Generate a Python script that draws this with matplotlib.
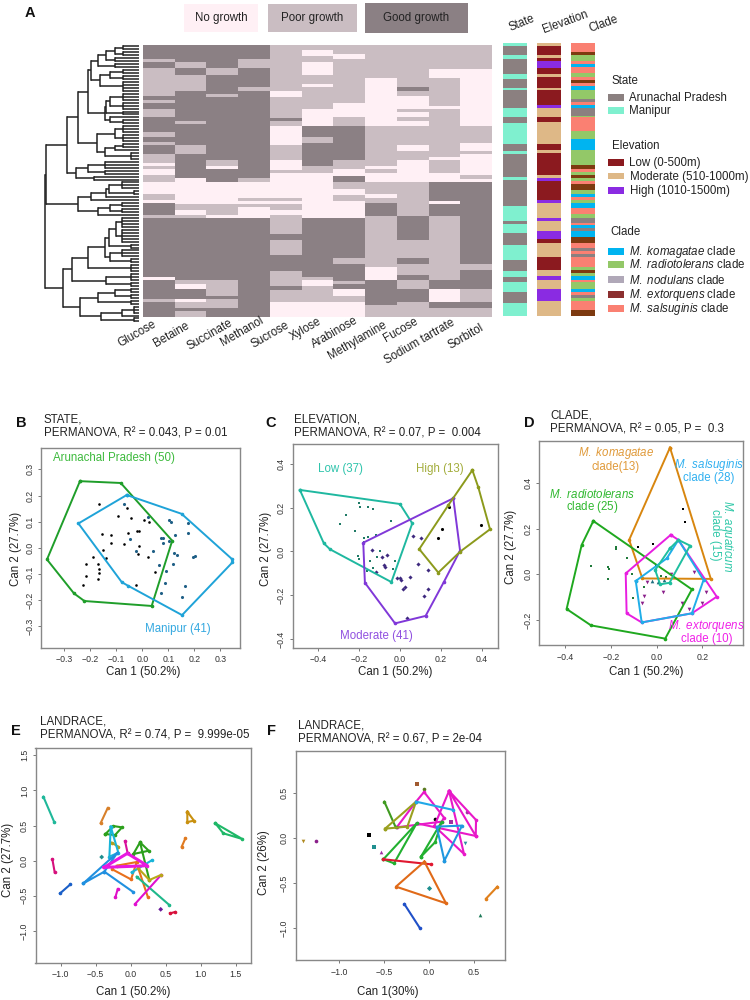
import numpy as np
import matplotlib
matplotlib.use("Agg")
import matplotlib.pyplot as plt
from matplotlib.colors import ListedColormap
from matplotlib.patches import Rectangle

plt.rcParams['font.family'] = ['Liberation Sans', 'DejaVu Sans']
plt.rcParams['mathtext.fontset'] = 'custom'
plt.rcParams['mathtext.rm'] = 'Liberation Sans'
plt.rcParams['mathtext.it'] = 'Liberation Sans:italic'
plt.rcParams['mathtext.bf'] = 'Liberation Sans:bold'

# ---------------- heatmap data: (level, end row); 0 none, 1 poor, 2 good ----------------
SUBSTRATES = ["Glucose", "Betaine", "Succinate", "Methanol", "Sucrose", "Xylose", "Arabinose",
              "Methylamine", "Fucose", "Sodium tartrate", "Sorbitol"]
N_ROWS = 92
glucose = [(2,5),(1,6),(2,8),(1,17.5),(2,19),(1,20),(2,22),(1,24.5),(2,29.5),(1,31.5),(2,33),(1,34),(2,37),(1,40),(0,41),(1,42),(0,44),(1,46.5),(0,50.5),(1,52.5),(0,53.5),(2,57.5),(1,58.5),(2,78.5),(0,79.5),(2,86),(1,87),(2,92)]
betaine = [(2,6),(1,8),(2,10.5),(1,16),(2,26),(1,27),(2,34),(1,37),(2,45),(0,54),(1,56),(0,57.5),(1,58.5),(2,79.5),(1,81),(0,82.5),(2,86),(0,87),(1,89),(2,90),(1,92)]
succinate = [(2,8),(1,10.5),(2,17),(1,18),(2,39),(1,41),(0,42),(2,46.5),(0,54),(1,57.5),(0,58.5),(2,79.5),(1,85),(2,86),(1,89),(2,92)]
methanol = [(2,5),(1,8),(2,14.5),(1,16),(2,45),(1,46.5),(0,52),(1,53),(0,54),(1,55),(0,58.5),(2,92)]
sucrose = [(1,16),(0,18),(1,25),(2,26),(1,27.5),(0,34),(1,39),(0,42.5),(1,43.5),(0,52),(1,53),(0,54),(1,56),(0,57.5),(1,64),(2,66),(1,71),(2,76.5),(1,81.5),(2,83),(1,87),(0,92)]
xylose = [(1,2),(0,4),(1,6),(0,10.5),(1,13.5),(0,14.5),(1,22),(0,27.5),(2,31.5),(1,33.5),(2,41),(1,43.5),(0,58.5),(2,78.5),(1,79.5),(0,81.5),(1,87),(0,92)]
arabinose = [(1,3.5),(0,5),(1,20),(0,24.5),(1,27.5),(2,39),(1,42),(0,44.5),(2,46.5),(1,49),(0,51),(1,53),(0,58.5),(2,72),(1,74),(2,80),(1,81),(2,82.5),(0,85),(1,87),(0,92)]
methylamine = [(1,11.5),(0,27.5),(1,41),(0,42),(1,43.5),(0,46.5),(1,50.5),(0,52),(1,53.5),(2,58),(1,75),(0,79.5),(2,88),(1,92)]
fucose = [(1,14.5),(2,16),(1,17.5),(0,22),(1,23),(0,24.5),(1,26),(0,27.5),(1,34),(0,36),(1,39),(0,46.5),(1,58),(2,66),(1,72),(2,74),(1,78),(2,79.5),(1,82.5),(2,87),(1,92)]
sodium_tartrate = [(1,8.5),(0,11.5),(1,21),(0,22),(1,38),(0,39),(1,43.5),(0,46.5),(2,53),(0,54),(2,58),(1,79.5),(2,82.5),(0,87),(2,89),(1,92)]
sorbitol = [(1,8.5),(0,27.5),(1,33.5),(0,36),(1,37),(0,44),(1,45.5),(0,46.5),(2,74),(1,76),(2,82.5),(1,87),(2,89),(1,92)]
COLUMNS = [glucose, betaine, succinate, methanol, sucrose, xylose, arabinose, methylamine, fucose, sodium_tartrate, sorbitol]

# annotation strips
A, M = 'A', 'M'
state_runs = [(M,1),(A,4),(M,5.5),(A,10.5),(M,12),(A,15),(M,16),(A,22),(M,25),(A,27),(M,34),(A,36.5),(M,37.5),(A,45),(M,46),(A,55),(M,60),(A,61),(M,64),(A,68),(M,73),(A,77),(M,79),(A,80.5),(M,84),(A,87.5),(M,92)]
L_, O_, H_ = 'L', 'O', 'H'
elev_runs = [(O_,1),(L_,4),(O_,5),(L_,6),(H_,8.5),(L_,10.5),(O_,11.5),(L_,15),(O_,16),(L_,21),(H_,22),(O_,25),(L_,26.5),(O_,34),(L_,36),(O_,37),(L_,44.5),(O_,45.5),(H_,46.5),(L_,53),(H_,54),(O_,59),(H_,60),(O_,63.5),(H_,66),(L_,67.5),(O_,72),(L_,76.5),(O_,78.5),(H_,80),(O_,83),(H_,87),(O_,92)]
K, R, N, E, S = 'K', 'R', 'N', 'E', 'S'
clade_runs = [(S,3),(E,4),(R,5),(R,6),(S,7),(K,8),(S,10),(R,11.5),(S,12.5),(E,13.5),(S,14.5),(K,16),(R,19),(N,20),(S,21),(K,22),(N,24.5),(R,25),(S,29.5),(R,32.5),(K,36),(R,41),(E,42.5),(S,43.5),(R,44.5),(E,45.5),(R,46.5),(S,47.5),(E,49.5),(R,51),(K,52),(S,53),(R,54),(K,55.5),(S,57.5),(R,59),(N,60.5),(S,61.5),(K,62.5),(N,63.5),(K,65.5),(E,67.5),(S,69),(N,70),(S,71),(N,72),(S,75.5),(R,76.5),(E,77.5),(R,78.5),(K,80),(S,80.5),(R,83),(K,84),(S,85),(N,86),(R,87),(S,90),(E,92)]

# ---------------- dendrogram: (merge distance, children); None is a leaf ----------------
def L(n, d):
    return (d, [None] * n)
def B(d, *c):
    return (d, list(c))
c1 = B(41, B(33, B(24, L(2,16), L(2,16)), L(2,24)), L(2,24))
c2 = B(39, B(29, L(2,16), L(2,16)), L(4,16))
c3 = B(33, B(29, L(3,16), L(3,16)), L(2,16))
c4 = B(29, None, L(2,16))
t1 = B(51, B(48, c1, c2), B(34, c3, c4))
t2 = B(42, B(24, L(3,16), L(3,16)), B(34, B(24, L(2,16), None), L(3,8)))
t3 = B(63, B(51, L(3,34), L(2,34)), L(2,45))
t4 = B(61, B(48, B(33, B(30, L(3,17), L(2,5)), None), None), B(41, B(29, L(2,17), L(2,17)), None))
t5 = B(51, B(34, B(30, B(23, L(4,17), L(5,17)), L(2,8)), B(29, L(3,17), L(2,8))), L(3,8))
t5b = B(33, L(3,8), L(2,8))
t6 = B(59, B(41, B(24, L(2,8), L(2,8)), L(2,8)), B(38, B(17, L(3,5), None), L(2,5)))
TREE = B(94.5, B(93, B(72, B(61, t1, t2), t3), t4), B(76, B(67, t5, t5b), t6))

# ---------------- panel B ----------------
b_arun_hull_x = [-0.24,-0.083,0.115,0.036,-0.223,-0.263,-0.367]
b_arun_hull_y = [0.255,0.248,0.027,-0.223,-0.204,-0.175,-0.045]
b_man_hull_x = [-0.06,0.151,0.347,0.347,0.153,-0.054,-0.079,-0.246]
b_man_hull_y = [0.202,0.13,-0.045,-0.056,-0.258,-0.146,-0.132,0.093]
b_arun_x = [-0.165,-0.092,-0.058,-0.045,0.008,0.024,-0.154,-0.122,-0.121,-0.056,-0.022,-0.013,-0.072,-0.013,-0.015,0.021,-0.151,-0.191,-0.14,-0.218,-0.172,-0.165,-0.165,-0.218,-0.169,-0.227,-0.023,0.05]
b_arun_y = [0.166,0.123,0.151,0.112,0.106,0.1,0.051,0.047,0.02,0.056,0.063,0.066,0.015,0.006,-0.023,-0.034,-0.01,-0.034,-0.041,-0.064,-0.061,-0.08,-0.095,-0.107,-0.12,-0.143,-0.142,-0.093]
b_man_x = [-0.069,-0.047,-0.024,0.041,0.063,0.092,0.088,0.073,0.154,0.163,0.118,0.123,0.132,0.195,0.204,0.176,0.176,0.103,0.11,0.126,0.071,0.081,0.081,0.103,0.021]
b_man_y = [0.166,0.032,-0.011,-0.014,-0.065,-0.091,-0.134,-0.175,-0.189,-0.146,-0.063,-0.019,-0.026,-0.037,-0.032,0.055,0.093,0.106,0.098,0.05,0.038,0.036,0.019,0.026,0.116]

# ---------------- panel C ----------------
c_low_hull_x = [-0.488,0,0.06,-0.042,-0.341,-0.371]
c_low_hull_y = [0.28,0.216,0.128,-0.139,0.01,0.037]
c_mod_hull_x = [0.26,0.293,0.215,0.125,-0.024,-0.171,-0.179]
c_mod_hull_y = [0.242,0.004,-0.137,-0.293,-0.327,-0.142,0.04]
c_high_hull_x = [0.353,0.382,0.439,0.293,0.187,0.094,0.236]
c_high_hull_y = [0.37,0.292,0.101,-0.001,-0.096,0.011,0.211]
c_low_x = [-0.202,-0.195,-0.158,-0.13,-0.262,-0.293,-0.218,-0.044,-0.154,-0.119,-0.177,-0.176,-0.205,-0.198,-0.145,-0.112,-0.096,-0.024,-0.13,-0.033,-0.163]
c_low_y = [0.219,0.204,0.201,0.195,0.164,0.125,0.095,0.14,0.067,0.075,0.06,0.045,-0.02,-0.036,-0.045,-0.023,0.002,-0.042,-0.077,-0.078,-0.087]
c_mod_x = [-0.137,-0.086,-0.065,-0.078,-0.073,-0.115,-0.016,0,0.007,0.049,0.026,0.016,0.117,0.135,0.135,0.089,0.065,0.101,0.033]
c_mod_y = [0.007,-0.027,-0.014,-0.061,-0.069,-0.095,-0.119,-0.122,-0.13,-0.114,-0.16,-0.172,-0.202,-0.17,-0.084,-0.057,0.07,0.06,-0.301]
c_high_x = [0.237,0.203,0.185,0.393]
c_high_y = [0.204,0.101,0.063,0.119]

# ---------------- panel D ----------------
d_kom_hull_x = [0.058,0.237,-0.063,-0.121]
d_kom_hull_y = [0.556,-0.02,-0.018,0.151]
d_rad_hull_x = [-0.278,0.154,0.037,-0.288,-0.395,-0.329]
d_rad_hull_y = [0.234,-0.066,-0.282,-0.224,-0.152,0.129]
d_ext_hull_x = [0.061,0.095,0.263,0.154,-0.066,-0.132,-0.136]
d_ext_hull_y = [0.173,0.151,-0.098,-0.171,-0.211,-0.171,0.004]
d_sal_hull_x = [-0.092,0.044,0.095,0.205,0.154,-0.066]
d_sal_hull_y = [-0.029,0.07,0.151,-0.025,-0.171,-0.211]
d_aqu_hull_x = [0.058,0.095,0.146,0.056,0.015,-0.007]
d_aqu_hull_y = [0.114,0.151,0.126,-0.037,-0.044,0.019]
d_rad_x = [-0.289,-0.215,-0.208,-0.212,-0.18,-0.18,-0.129,-0.108,-0.104,-0.056,0.019,0.039]
d_rad_y = [0.038,0.031,0.023,-0.019,0.121,0.111,0.073,0.001,-0.102,-0.054,-0.007,-0.01]
d_kom_x = [0.058,0.113,0.124,-0.082,-0.015,-0.004,-0.004]
d_kom_y = [0.556,0.287,0.228,0.121,0.133,0.041,0.019]
d_ext_x = [-0.044,-0.056,-0.066,0.029,0.063,0.11,0.142,0.216,0.199,0.164]
d_ext_y = [-0.032,-0.095,-0.127,-0.076,0,-0.124,-0.154,-0.077,-0.127,0.012]
d_aqu_x = [-0.02,0.007,0.03]
d_aqu_y = [-0.03,-0.032,-0.025]

# ---------------- panel E: (colour, line width, x values, y values) ----------------
e_groups = [
    ('#1fb89a', 1.5, [-1.246,-1.089], [0.91,0.545]),
    ('#d8802a', 1.5, [-0.328,-0.428], [0.749,0.536]),
    ('#c8900f', 1.5, [0.808,0.903,0.808,0.808], [0.697,0.569,0.55,0.697]),
    ('#e07a20', 1.5, [0.78,0.728], [0.318,0.199]),
    ('#1fb868', 1.5, [1.208,1.593,1.322,1.208], [0.531,0.308,0.389,0.531]),
    ('#1a5fc8', 1.5, [-1.008,-0.861], [-0.465,-0.337]),
    ('#d6107c', 1.5, [-1.117,-1.084], [0.019,-0.166]),
    ('#e010c8', 1.5, [-0.185,-0.219], [-0.403,-0.522]),
    ('#d8103c', 1.5, [0.561,0.632], [-0.749,-0.73]),
    ('#2ca01c', 1.5, [-0.361,-0.247,-0.124,-0.223,-0.361], [0.379,0.493,0.474,0.365,0.379]),
    ('#b0a020', 1.5, [-0.271,-0.176], [0.256,0.199]),
    ('#18b4d8', 1.5, [-0.285,-0.176,-0.304,-0.285], [0.484,0.114,0.057,0.484]),
    ('#d8109c', 1.5, [-0.081,-0.043], [0.28,0.104]),
    ('#2090e0', 1.5, [-0.675,-0.19,-0.376,-0.675], [-0.322,0.114,-0.156,-0.322]),
    ('#2090e0', 1.5, [-0.376,0.029], [-0.156,-0.441]),
    ('#2ca01c', 1.5, [0.133,0.038,0.257,0.133,0.266], [0.261,0.095,0.142,0.261,-0.275]),
    ('#e8701c', 1.5, [-0.2,0.086,0.005,-0.262], [-0.071,-0.019,-0.266,-0.123]),
    ('#e8701c', 1.5, [0.109,0.243], [-0.109,-0.512]),
    ('#1fb88a', 1.5, [0.086,0.552], [-0.228,-0.631]),
    ('#e010d0', 1.5, [0.062,0.433], [-0.616,-0.204]),
    ('#18b4d8', 1.5, [0.014,0.3], [-0.166,0.005]),
    ('#b8a818', 1.5, [0.109,0.266,0.428], [-0.109,-0.275,-0.204]),
    ('#e818e0', 2.2, [-0.38,-0.048,0.238,-0.38], [-0.095,0.104,-0.071,-0.095]),
]
e_single_x = [0.428,-0.414]
e_single_y = [-0.692,0.052]
e_single_c = ['#6a1b9a','#1f8f8f']

# ---------------- panel F ----------------
f_groups = [
    ('#e818c8', [-0.357,-0.141,-0.052,0.171,0.145,-0.357], [0.122,0.407,0.515,0.23,0.185,0.122]),
    ('#e818c8', [-0.134,0.525], [0.167,0.026]),
    ('#e818c8', [0.227,0.528,0.525,0.227], [0.526,0.204,0.026,0.526]),
    ('#e818c8', [0.227,0.063,0.394,0.227], [0.526,0.137,-0.174,0.526]),
    ('#3f9a20', [-0.495,-0.368], [0.407,0.122]),
    ('#9aa020', [-0.487,-0.141,-0.238,-0.487], [0.107,0.407,0.13,0.107]),
    ('#22b030', [-0.506,-0.134,-0.387,-0.506], [-0.233,0.167,-0.278,-0.233]),
    ('#22b030', [-0.086,0.145,0.071,-0.086], [-0.204,0.185,-0.044,-0.204]),
    ('#e01830', [-0.506,0.026], [-0.233,-0.289]),
    ('#2098e0', [0.175,0.372,0.089,0.175], [-0.248,0.141,0.13,-0.248]),
    ('#20a8e8', [-0.141,0.275], [0.407,0.315]),
    ('#e06a18', [-0.048,0.193,-0.365,-0.048], [-0.259,-0.722,-0.537,-0.259]),
    ('#e0801c', [0.64,0.766], [-0.67,-0.537]),
    ('#2050c8', [-0.272,-0.097], [-0.73,-1.0]),
]
f_single_x = [-1.406,-1.261,-0.67,-0.606,-0.532,-0.13,-0.052,0,0.573,0.074,0.249,0.406,0.432]
f_single_y = [-0.033,-0.033,0.037,-0.096,-0.156,0.604,0.544,-0.548,-0.848,0.211,0.178,-0.048,0.296]
f_single_c = ['#b08a20','#8a1f8a','black','#1f8f8f','#a030a0','#a05a30','#5a7a20','#1f8f8f','#1f7a5a','black','#a030a0','#2f8fa0','#a030a0']
f_single_m = ['v','o','s','s','^','s','o','D','^','o','s','v','o']

# ---------------- colours ----------------
HEAT = ['#fff0f5', '#cabdc2', '#8b8084']
STATE_C = {A: '#8b8080', M: '#7ff0cf'}
ELEV_C = {L_: '#8b1a1f', O_: '#deb887', H_: '#8a2be2'}
CLADE_C = {K: '#00b4f0', R: '#93c868', N: '#8b8080', E: '#7d3a10', S: '#fa8072'}

W, H = 750, 1000
fig = plt.figure(figsize=(W/100, H/100), dpi=100, facecolor='white')

def axpx(l, t, r, b):
    return fig.add_axes([l/W, 1-b/H, (r-l)/W, (b-t)/H])
def T(x, y, s, size=8.3, ha='left', va='center', **kw):
    return fig.text(x/W, 1-y/H, s, fontsize=size, ha=ha, va=va, **kw)
def box(x0, y0, x1, y1, c):
    fig.add_artist(Rectangle((x0/W, 1-y1/H), (x1-x0)/W, (y1-y0)/H, transform=fig.transFigure, facecolor=c, edgecolor='none'))

# ---- heatmap
ax = axpx(143, 45, 492, 317)
mat = np.zeros((N_ROWS*2, len(COLUMNS)), dtype=int)
for j, runs in enumerate(COLUMNS):
    start = 0
    for val, end in runs:
        mat[start:int(end*2), j] = val
        start = int(end*2)
ax.imshow(mat, cmap=ListedColormap(HEAT), vmin=0, vmax=2, aspect='auto', interpolation='nearest', extent=(0, 11, N_ROWS, 0))
ax.axis('off')

label_ends = [(155,323),(188,325),(232,322),(263,320),(288,324),(321,321),(357,320),(386,324),(417,321),(454,322),(483,327)]
for name, (x, y) in zip(SUBSTRATES, label_ends):
    T(x, y, name, ha='right', rotation=30, rotation_mode='anchor', color='#222222')

# ---- legend boxes at the top
box(184, 4, 258, 32, HEAT[0]); T(221, 18, 'No growth', ha='center', color='#222222')
box(268, 4, 357, 32, HEAT[1]); T(312, 18, 'Poor growth', ha='center', color='#222222')
box(365, 3, 468, 33, HEAT[2]); T(416, 18, 'Good growth', ha='center', color='#222222')

# ---- dendrogram
dax = axpx(44, 45, 139, 317)
dax.set_xlim(95, 0); dax.set_ylim(N_ROWS, 0); dax.axis('off')
counter = [0]
def draw(node):
    if node is None:
        y = counter[0] + 0.5
        counter[0] += 1
        return 0, y
    d, kids = node
    pos = [draw(k) for k in kids]
    ys = [p[1] for p in pos]
    for kd, ky in pos:
        dax.plot([d, kd], [ky, ky], color='#222222', lw=1.1, solid_capstyle='butt', clip_on=False)
    dax.plot([d, d], [min(ys), max(ys)], color='#222222', lw=1.1, solid_capstyle='projecting', clip_on=False)
    return d, (min(ys) + max(ys)) / 2
draw(TREE)

# ---- annotation strips
def strip(l, r, runs, cmap):
    a = axpx(l, 43, r, 316)
    a.set_xlim(0, 1); a.set_ylim(N_ROWS, 0); a.axis('off')
    start = 0
    for code, end in runs:
        a.barh((start+end)/2, 1, height=end-start, left=0, color=cmap[code], linewidth=0)
        start = end
strip(503, 527, state_runs, STATE_C)
strip(537, 561, elev_runs, ELEV_C)
strip(571, 595, clade_runs, CLADE_C)
T(522, 23, 'State', ha='center', rotation=22, color='#222222')
T(565, 22, 'Elevation', ha='center', rotation=20, color='#222222')
T(604, 24, 'Clade', ha='center', rotation=20, color='#222222')

# ---- side legends
T(611, 81, 'State', color='#222222')
box(608, 94, 624, 101, STATE_C[A]); T(629, 98, 'Arunachal Pradesh', color='#222222')
box(608, 107, 624, 114, STATE_C[M]); T(629, 111, 'Manipur', color='#222222')
T(612, 146, 'Elevation', color='#222222')
box(608, 159, 624, 166, ELEV_C[L_]); T(629, 163, 'Low (0-500m)', color='#222222')
box(608, 173, 624, 179, ELEV_C[O_]); T(630, 177, 'Moderate (510-1000m)', color='#222222')
box(608, 187, 624, 194, ELEV_C[H_]); T(630, 191, 'High (1010-1500m)', color='#222222')
T(610, 232, 'Clade', color='#222222')
legend_clades = [('komagatae', '#00b4f0', 252), ('radiotolerans', '#93c868', 265), ('nodulans', '#b0a8b8', 280),
                 ('extorquens', '#8b2f2f', 295), ('salsuginis', '#fa8072', 309)]
for nm, c, y in legend_clades:
    box(608, y-4, 624, y+3, c)
    T(629, y, r'$\mathit{M.\ ' + nm + '}$ clade', color='#222222')

# ---- panel letters
for s, x, y in [('A',30,13),('B',21,423),('C',271,423),('D',529,423),('E',16,731),('F',271,731)]:
    T(x, y, s, size=10.5, ha='center', fontweight='bold', color='#111111')

# ---- ordination panels
def panel(box_px, xlim, ylim, xticks, yticks, xlab, ylab, xlab_xy, ylab_xy, title_xy, title, tick_y, tick_x):
    a = axpx(*box_px)
    a.set_xlim(*xlim); a.set_ylim(*ylim)
    a.set_xticks(xticks); a.set_yticks(yticks)
    a.set_xticklabels([f'{t:.1f}'.replace('-', '\u2212') for t in xticks])
    a.set_yticklabels([f'{t:.1f}'.replace('-', '\u2212') for t in yticks], rotation=90, va='center')
    l, t, r, b = box_px
    a.tick_params(length=2.5, width=0.7, color='#777777', labelsize=6.3, labelcolor='#333333')
    a.tick_params(axis='x', pad=max(1, (tick_y - b - 2.5 - 4) * 0.72))
    a.tick_params(axis='y', pad=max(1, (l - tick_x - 2.5 - 6) * 0.72))
    for sp in a.spines.values():
        sp.set_color('#888888'); sp.set_linewidth(1.0)
    a.set_xlabel(xlab, fontsize=8.3, color='#222222', va='center')
    a.xaxis.set_label_coords(xlab_xy[0]/W, 1-xlab_xy[1]/H, transform=fig.transFigure)
    a.set_ylabel(ylab, fontsize=8.3, color='#222222', va='center')
    a.yaxis.set_label_coords(ylab_xy[0]/W, 1-ylab_xy[1]/H, transform=fig.transFigure)
    T(title_xy[0], title_xy[1], title[0], color='#222222')
    T(title_xy[0], title_xy[1]+14, title[1], color='#222222')
    return a

def hull(a, xs, ys, c, lw=1.4):
    a.plot(list(xs)+[xs[0]], list(ys)+[ys[0]], '-', color=c, lw=lw, marker='o', ms=1.6, solid_joinstyle='round')

# B
a = panel((41,448,240,648), (-0.39,0.376), (-0.384,0.382), [-0.3,-0.2,-0.1,0,0.1,0.2,0.3], [-0.3,-0.2,-0.1,0,0.1,0.2,0.3],
          'Can 1 (50.2%)', 'Can 2 (27.7%)', (143,672), (16,549), (44,420), ('STATE,', 'PERMANOVA, R\u00b2 = 0.043, P = 0.01'), 658, 30)
hull(a, b_arun_hull_x, b_arun_hull_y, '#1f9e2a')
hull(a, b_man_hull_x, b_man_hull_y, '#1fa3d8')
a.scatter(b_arun_x, b_arun_y, s=3.5, c='black', marker='o', linewidths=0)
a.scatter(b_man_x, b_man_y, s=5, c='#1f5f86', marker='o', linewidths=0)
T(114, 458, 'Arunachal Pradesh (50)', ha='center', color='#3dba3d')
T(178, 629, 'Manipur (41)', ha='center', color='#33a8e0')

# C
a = panel((292.7,444,498,648), (-0.523,0.478), (-0.439,0.489), [-0.4,-0.2,0,0.2,0.4], [-0.4,-0.2,0,0.2,0.4],
          'Can 1 (50.2%)', 'Can 2 (27.7%)', (395,672), (266,549), (294,420), ('ELEVATION,', 'PERMANOVA, R\u00b2 = 0.07, P =  0.004'), 658, 281)
hull(a, c_low_hull_x, c_low_hull_y, '#1fb8a0')
hull(a, c_mod_hull_x, c_mod_hull_y, '#8038d8')
hull(a, c_high_hull_x, c_high_hull_y, '#8c9a1c')
a.scatter(c_low_x, c_low_y, s=4.5, c='#1f7a66', marker='s', linewidths=0)
a.scatter(c_mod_x, c_mod_y, s=4.5, c='#3f2a7f', marker='D', linewidths=0)
a.scatter(c_high_x, c_high_y, s=5, c='black', marker='o', linewidths=0)
T(340, 469, 'Low (37)', ha='center', color='#2fc4ac')
T(440, 469, 'High (13)', ha='center', color='#a3ad3c')
T(376, 636, 'Moderate (41)', ha='center', color='#9050e0')

# D
a = panel((539,441,743,645), (-0.516,0.378), (-0.31,0.585), [-0.4,-0.2,0,0.2], [-0.2,0,0.2,0.4],
          'Can 1 (50.2%)', 'Can 2 (27.7%)', (646,672), (511,547), (550,415), ('CLADE,', 'PERMANOVA, R\u00b2 = 0.05, P =  0.3'), 656, 528)
hull(a, d_kom_hull_x, d_kom_hull_y, '#d8860f')
hull(a, d_rad_hull_x, d_rad_hull_y, '#1fa81f')
hull(a, d_ext_hull_x, d_ext_hull_y, '#e81ee0')
hull(a, d_sal_hull_x, d_sal_hull_y, '#20aee8')
hull(a, d_aqu_hull_x, d_aqu_hull_y, '#1fbfa0')
a.scatter(d_rad_x, d_rad_y, s=4.5, c='#1f7a3a', marker='s', linewidths=0)
a.scatter(d_kom_x, d_kom_y, s=3.5, c='black', marker='s', linewidths=0)
a.scatter(d_ext_x, d_ext_y, s=7, c='#8a1f8a', marker='v', linewidths=0)
a.scatter(d_aqu_x, d_aqu_y, s=7, c='#1f6f7f', marker='^', linewidths=0)
ORANGE, BLUE, GREEN, MAG, TEAL = '#e09a3a', '#30b0f0', '#2fb82f', '#f020e8', '#2fc8a8'
T(616, 453, r'$\mathit{M.\ komagatae}$', ha='center', color=ORANGE)
T(616, 467, 'clade(13)', ha='center', color=ORANGE)
T(709, 465, r'$\mathit{M.\ salsuginis}$', ha='center', color=BLUE)
T(709, 478, 'clade (28)', ha='center', color=BLUE)
T(592, 494, r'$\mathit{M.\ radiotolerans}$', ha='center', color=GREEN)
T(592, 507, r'clade $\mathit{(25)}$', ha='center', color=GREEN)
T(727, 536, r'$\mathit{M.\ aquaticum}$', ha='center', rotation=-90, color=TEAL)
T(715, 535, 'clade (15)', ha='center', rotation=-90, color=TEAL)
T(706, 626, r'$\mathit{M.\ extorquens}$', ha='center', color=MAG)
T(707, 639, 'clade (10)', ha='center', color=MAG)

# E
a = panel((35.5,747.7,250.7,963), (-1.358,1.712), (-1.455,1.607), [-1,-0.5,0,0.5,1,1.5], [-1,-0.5,0,0.5,1,1.5],
          'Can 1 (50.2%)', 'Can 2 (27.7%)', (133,992), (8,860), (40,722), ('LANDRACE,', 'PERMANOVA, R\u00b2 = 0.74, P =  9.999e-05'), 973, 24)
for c, w, xs, ys in e_groups:
    a.plot(xs, ys, '-', color=c, lw=w, marker='o', ms=1.6)
a.scatter(e_single_x, e_single_y, s=6, c=e_single_c, marker='D', linewidths=0)

# F
a = panel((295.7,751,504.7,960), (-1.484,0.848), (-1.352,0.97), [-1,-0.5,0,0.5], [-1,-0.5,0,0.5],
          'Can 1(30%)', 'Can 2 (26%)', (388,992), (264,863), (298,725), ('LANDRACE,', 'PERMANOVA, R\u00b2 = 0.67, P = 2e-04'), 971, 284)
for c, xs, ys in f_groups:
    a.plot(xs, ys, '-', color=c, lw=1.5, marker='o', ms=1.6)
for x, y, c, m in zip(f_single_x, f_single_y, f_single_c, f_single_m):
    a.scatter([x], [y], s=7, c=c, marker=m, linewidths=0)

fig.savefig('out.png', dpi=100)
